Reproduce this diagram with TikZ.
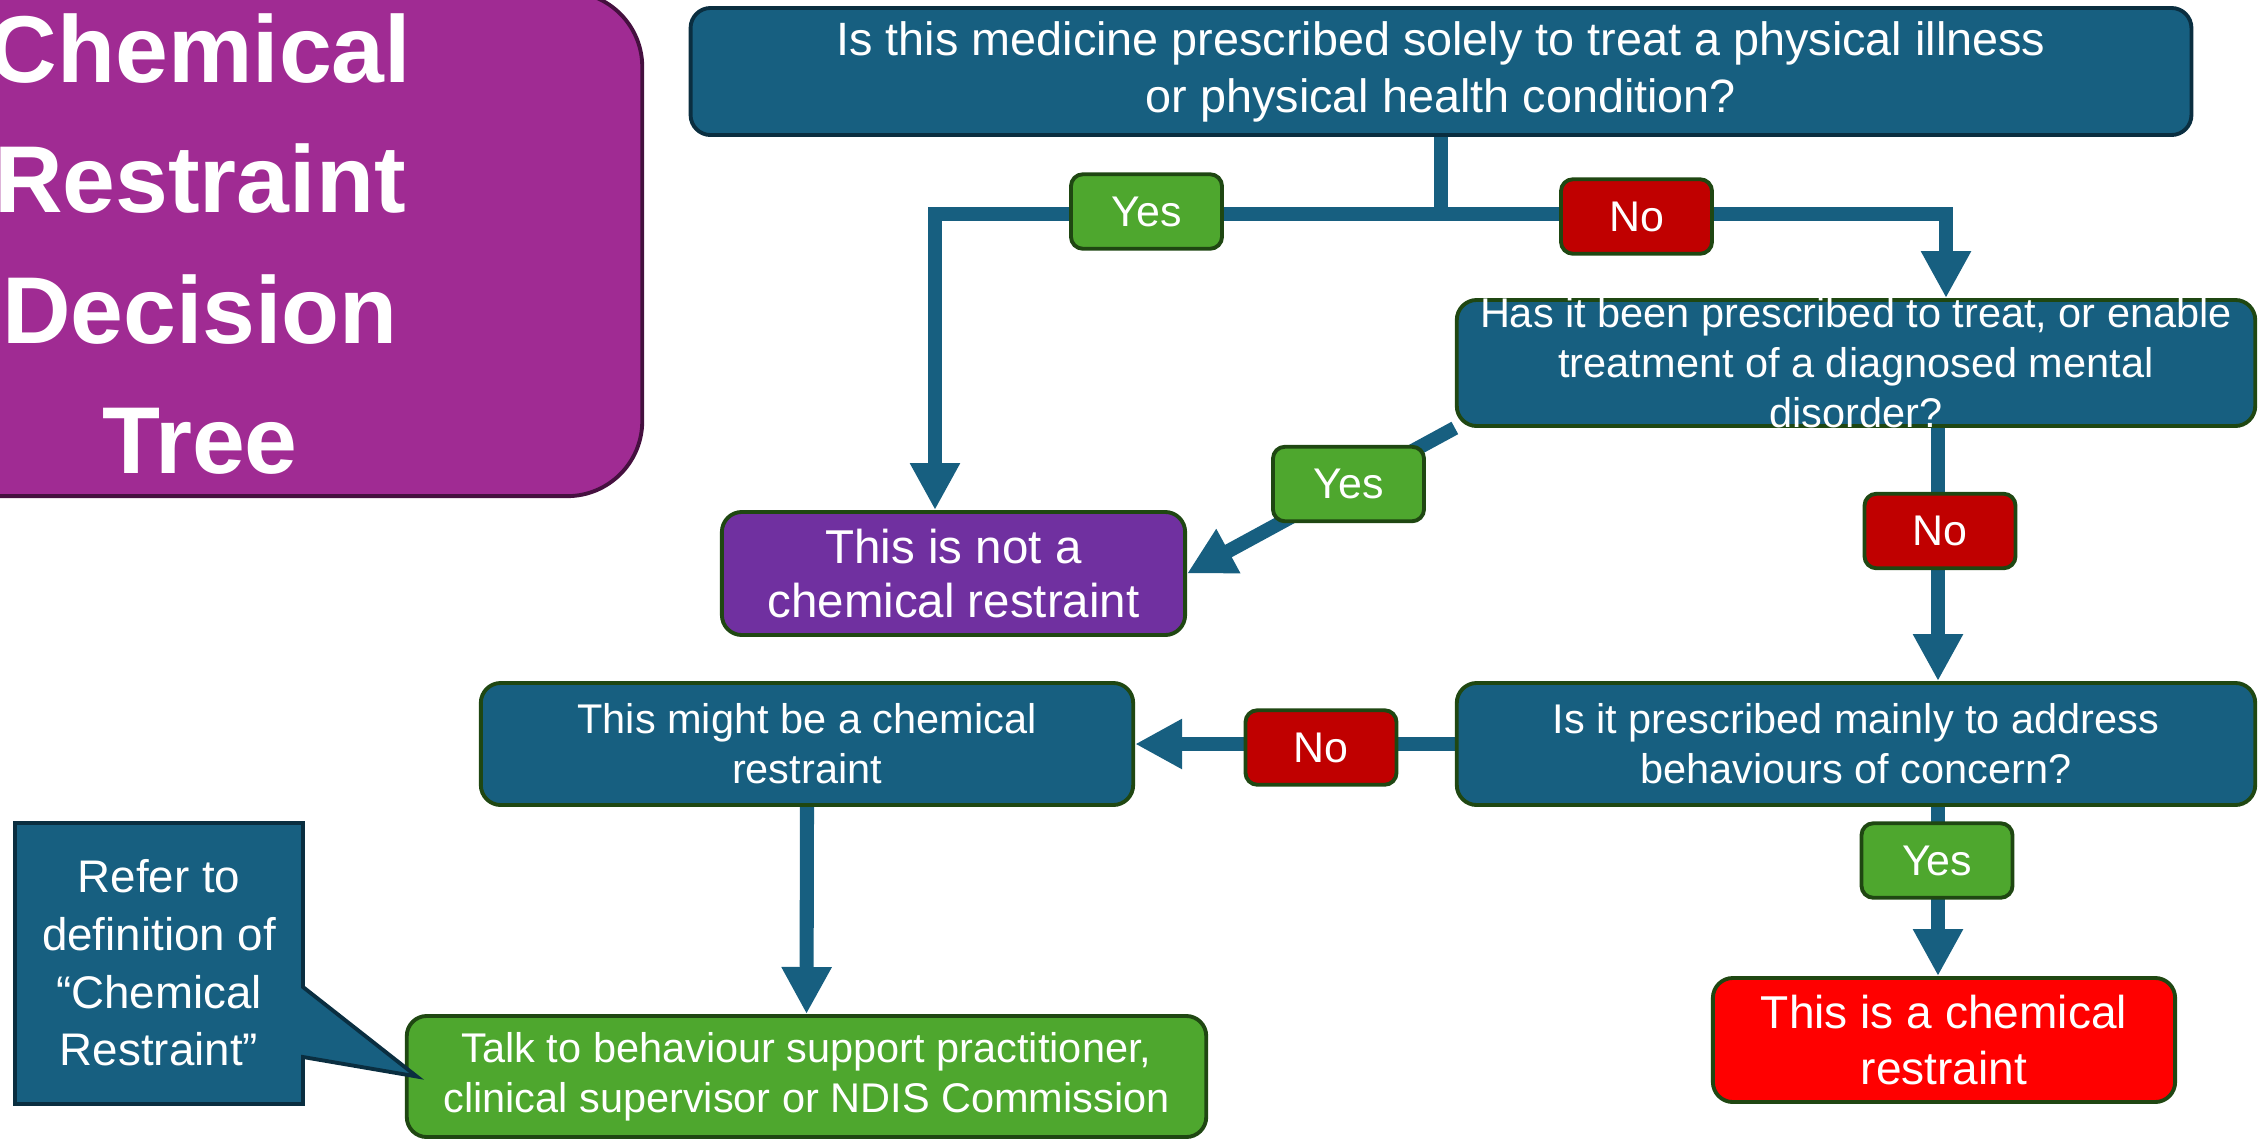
\documentclass[tikz,border=0pt]{standalone}
\usepackage{fontspec}
\setmainfont{Liberation Sans}
\usetikzlibrary{arrows.meta,backgrounds,calc}
\definecolor{tealf}{HTML}{175F80}
\definecolor{navyb}{HTML}{0A2E40}
\definecolor{greenf}{HTML}{4EA72E}
\definecolor{greenb}{HTML}{1F4712}
\definecolor{redl}{HTML}{C00000}
\definecolor{redbox}{HTML}{FF0000}
\definecolor{purp}{HTML}{7030A0}
\definecolor{magp}{HTML}{A02B93}
\definecolor{magb}{HTML}{45103F}
\begin{document}
\begin{tikzpicture}[x=0.01cm,y=-0.01cm,
  box/.style={draw=greenb, line width=1.1pt, rounded corners=0.2cm, text=white, align=center, inner sep=0pt},
  qbox/.style={box, fill=tealf, font=\fontsize{11.8}{14.2}\selectfont},
  bigtxt/.style={font=\fontsize{13.3}{16.2}\selectfont},
  txt/.style={text=white, align=center, inner sep=0pt, font=\fontsize{11.8}{14.2}\selectfont},
  lab/.style={box, rounded corners=0.12cm, minimum width=1.51cm, minimum height=0.745cm, font=\fontsize{12.2}{14}\selectfont},
  yeslab/.style={lab, fill=greenf},
  nolab/.style={lab, fill=redl},
  conn/.style={draw=tealf, line width=4pt},
  arr/.style={conn, -{Triangle[length=0.47cm,width=0.47cm]}}
]
\useasboundingbox (0,0) rectangle (2263,1139);
\clip (0,0) rectangle (2263,1139);

% title
\node[draw=magb, fill=magp, line width=1.1pt, rounded corners=0.75cm,
      minimum width=8.84cm, minimum height=5.04cm, text=white, align=center,
      font=\bfseries\fontsize{27}{37}\selectfont] (title) at (200,244)
      {Chemical\\Restraint\\Decision\\Tree};

% question / outcome boxes
\node[qbox, draw=navyb, bigtxt, minimum width=15cm, minimum height=1.27cm] (q1) at (1441,71.5)
  {Is this medicine prescribed solely to treat a physical illness\\or physical health condition?};
\node[qbox, minimum width=7.98cm, minimum height=1.26cm] (q2) at (1856,363) {};
\node[txt] (q2t) at (q2.center) {Has it been prescribed to treat, or enable\\treatment of a diagnosed mental\\disorder?};
\node[qbox, minimum width=7.98cm, minimum height=1.22cm] (q3) at (1856,744)
  {Is it prescribed mainly to address\\behaviours of concern?};
\node[box, fill=purp, font=\fontsize{13.5}{15.6}\selectfont, minimum width=4.63cm, minimum height=1.23cm] (ncr) at (953.5,573.5)
  {This is not a\\chemical restraint};
\node[qbox, minimum width=6.52cm, minimum height=1.22cm] (mb) at (807,744)
  {This might be a chemical\\restraint};
\node[box, fill=greenf, font=\fontsize{11.8}{14.2}\selectfont, minimum width=7.99cm, minimum height=1.21cm] (talk) at (806.5,1076.5)
  {Talk to behaviour support practitioner,\\clinical supervisor or NDIS Commission};
\node[box, fill=redbox, font=\fontsize{13.1}{16}\selectfont, minimum width=4.62cm, minimum height=1.24cm] (cr) at (1944,1040)
  {This is a chemical\\restraint};

% connectors
\begin{pgfonlayer}{background}
\coordinate (jl) at (935,214);
\coordinate (jr) at (1946,214);
\coordinate (rc) at (1938,0);
\draw[arr] (q1.south) |- (jl) -- (jl |- ncr.north);
\draw[arr] (q1.south) |- (jr) -- (jr |- q2.north);
\draw[arr] (q2.south west) -- (ncr.east);
\draw[arr] (q2.south -| rc) -- (q3.north -| rc);
\draw[arr] (q3.west) -- (mb.east);
\draw[arr] (q3.south -| rc) -- (cr.north -| rc);
\draw[arr] (mb.south) -- (talk.north);
\end{pgfonlayer}

% labels
\node[yeslab] (y1) at (1146.5,211.5) {Yes};
\node[nolab]  (n1) at (1636.5,216.5) {No};
\node[yeslab] (y2) at (1348.5,484) {Yes};
\node[nolab]  (n2) at (1940,531) {No};
\node[nolab]  (n3) at (1321,747.5) {No};
\node[yeslab] (y3) at (1937,860.5) {Yes};

% callout
\draw[fill=tealf, draw=navyb, line width=1.1pt, line join=miter]
  (15,823) -- (303,823) -- (303,987) -- ($(talk.west)+(12,0)$) -- (303,1057) -- (303,1104) -- (15,1104) -- cycle;
\node[text=white, align=center, inner sep=0pt, font=\fontsize{13}{16.4}\selectfont] (co) at (159,963)
  {Refer to\\definition of\\“Chemical\\Restraint”};
\end{tikzpicture}
\end{document}
